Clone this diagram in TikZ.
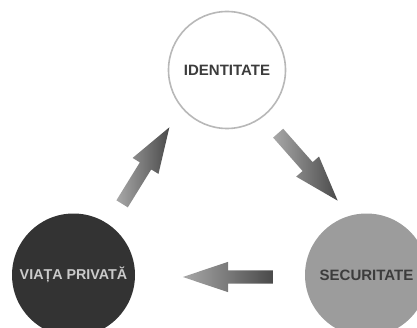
\documentclass[tikz,border=0pt]{standalone}
\usepackage{fontspec}
\setmainfont{Liberation Sans}
\usetikzlibrary{shapes.arrows}
\definecolor{RingGray}{HTML}{B8B8B8}
\definecolor{PrivDark}{HTML}{333333}
\definecolor{SecGray}{HTML}{9C9C9C}
\definecolor{LabelDark}{HTML}{3C3C3C}
\definecolor{LabelLight}{HTML}{CBCBCB}
\definecolor{ArrowLight}{HTML}{A8A8A8}
\definecolor{ArrowDark}{HTML}{4A4A4A}
\tikzset{
    topic/.style={circle, inner sep=0pt, minimum size=123pt,
        font=\bfseries\fontsize{15}{15}\selectfont},
    flow/.style={single arrow, anchor=tail, inner xsep=0pt, inner ysep=6.5pt,
        minimum height=90pt, single arrow head extend=8.5pt,
        single arrow tip angle=37, left color=ArrowLight, right color=ArrowDark},
}

\begin{document}
\begin{tikzpicture}[x=1pt,y=1pt]
    \useasboundingbox (0,0) rectangle (417,327);
    \clip (0,0) rectangle (417,327);
    % circles
    \node[topic, minimum size=117pt, fill=white, draw=RingGray, line width=1.6pt, text=LabelDark] (Ident) at (227,257) {IDENTITATE};
    \node[topic, fill=PrivDark, text=LabelLight, font=\bfseries\fontsize{14.3}{15}\selectfont] (Priv) at (73.5,52) {VIAȚA PRIVATĂ};
    \node[topic, fill=SecGray, text=LabelDark] (Secur) at (366.5,52) {SECURITATE};
    % arrows, placed by their tails
    \node[flow, rotate=58.3] (ToIdent) at (122,123) {};
    \node[flow, rotate=-48.6] (ToSecur) at (278,194) {};
    \node[flow, rotate=180] (ToPriv) at (273,50) {};
\end{tikzpicture}
\end{document}
